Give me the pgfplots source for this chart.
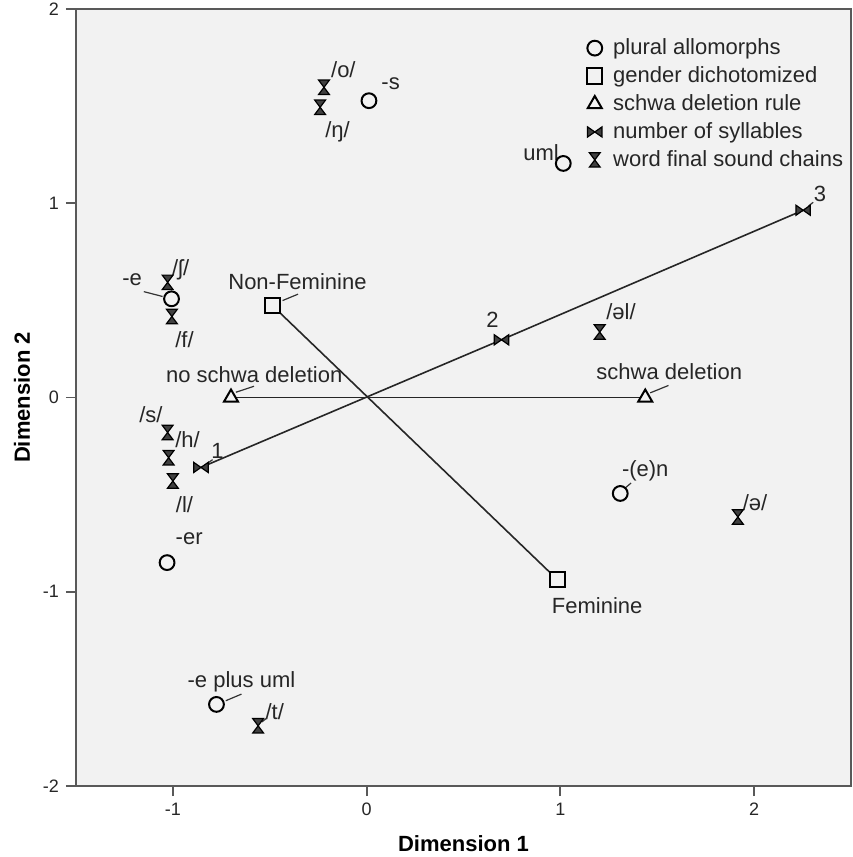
\documentclass[border=0pt]{standalone}
\usepackage{fontspec}
\setmainfont{Liberation Sans}
\usepackage{pgfplots}
\pgfplotsset{compat=1.18}
\definecolor{bg}{HTML}{F2F2F2}
\definecolor{txt}{HTML}{262626}

\pgfdeclareplotmark{bowtie}{%
  \pgfpathmoveto{\pgfpoint{-\pgfplotmarksize}{0.7\pgfplotmarksize}}%
  \pgfpathlineto{\pgfpoint{\pgfplotmarksize}{-0.7\pgfplotmarksize}}%
  \pgfpathlineto{\pgfpoint{\pgfplotmarksize}{0.7\pgfplotmarksize}}%
  \pgfpathlineto{\pgfpoint{-\pgfplotmarksize}{-0.7\pgfplotmarksize}}%
  \pgfpathclose
  \pgfusepathqfillstroke}
\pgfdeclareplotmark{hourglass}{%
  \pgfpathmoveto{\pgfpoint{-0.75\pgfplotmarksize}{\pgfplotmarksize}}%
  \pgfpathlineto{\pgfpoint{0.75\pgfplotmarksize}{\pgfplotmarksize}}%
  \pgfpathlineto{\pgfpoint{-0.75\pgfplotmarksize}{-\pgfplotmarksize}}%
  \pgfpathlineto{\pgfpoint{0.75\pgfplotmarksize}{-\pgfplotmarksize}}%
  \pgfpathclose
  \pgfusepathqfillstroke}

\tikzset{lab/.style={font=\fontsize{11}{13}\selectfont, text=txt, inner sep=0pt},
         lead/.style={black!80, line width=0.6pt}}

\begin{document}
\begin{tikzpicture}
\begin{axis}[
  scale only axis, width=387.5pt, height=388.5pt,
  xmin=-1.5, xmax=2.5, ymin=-2, ymax=2,
  xtick={-1,0,1,2}, xticklabels={-1,0,1,2},
  ytick={-2,-1,0,1,2}, yticklabels={-2,-1,0,1,2},
  tick pos=left, tick align=outside, major tick length=5pt,
  axis line style={black!65, line width=1pt},
  tick style={black!65, line width=0.9pt},
  axis background/.style={fill=bg},
  ticklabel style={font=\fontsize{9}{10}\selectfont, text=txt},
  xlabel={Dimension 1}, ylabel={Dimension 2},
  every axis x label/.style={at={(axis description cs:0.5,-0.0746)}, anchor=center, font=\bfseries\fontsize{11}{13}\selectfont},
  every axis y label/.style={at={(axis description cs:-0.0697,0.5)}, anchor=center, rotate=90, font=\bfseries\fontsize{11}{13}\selectfont},
  legend style={at={(axis cs:1.127,1.87)}, anchor=north west, draw=none, fill=none,
    font=\fontsize{11}{13}\selectfont, text=txt, row sep=0.5pt, inner sep=0pt},
  legend cell align=left,
  legend image code/.code={\draw[#1] plot coordinates {(4.5pt,0pt)}; \path (0pt,0pt) (11.5pt,0pt);},
  clip=false,
]
% connecting lines
\addplot[forget plot, black!85, line width=0.8pt] coordinates {(-0.486,0.473) (0.985,-0.938)};
\addplot[forget plot, black!85, line width=0.8pt] coordinates {(-0.700,0) (1.438,0)};
\addplot[forget plot, black!85, line width=0.8pt] coordinates {(-0.855,-0.360) (0.696,0.297) (2.253,0.964)};

% plural allomorphs
\addplot[only marks, mark=*, mark size=3.7pt, mark options={fill=bg, draw=black, line width=1pt}] coordinates {
  (0.012,1.528) (1.015,1.205) (-1.007,0.508) (1.309,-0.494) (-1.030,-0.850) (-0.775,-1.580)};
\addlegendentry{plural allomorphs}
% gender
\addplot[only marks, mark=square*, mark size=3.8pt, mark options={fill=bg, draw=black, line width=1pt}] coordinates {
  (-0.486,0.473) (0.985,-0.938)};
\addlegendentry{gender dichotomized}
% schwa
\addplot[only marks, mark=triangle*, mark size=4pt, mark options={fill=bg, draw=black, line width=1pt}] coordinates {
  (-0.700,0) (1.438,0)};
\addlegendentry{schwa deletion rule}
% syllables
\addplot[only marks, mark=bowtie, mark size=3.6pt, mark options={fill=black!75, draw=black, line width=0.6pt}] coordinates {
  (-0.855,-0.360) (0.696,0.297) (2.253,0.964)};
\addlegendentry{number of syllables}
% word final sound chains
\addplot[only marks, mark=hourglass, mark size=3.6pt, mark options={fill=black!75, draw=black, line width=0.6pt}] coordinates {
  (-0.220,1.597) (-0.240,1.494) (-1.027,0.593) (-1.005,0.417) (1.203,0.337)
  (-1.027,-0.180) (-1.022,-0.310) (-1.000,-0.430) (1.916,-0.615) (-0.560,-1.690)};
\addlegendentry{word final sound chains}

% labels
\node[lab] at (axis cs:0.124,1.615) {-s};
\node[lab] at (axis cs:-0.120,1.690) {/o/};
\node[lab] at (axis cs:-0.150,1.370) {/ŋ/};
\node[lab] at (axis cs:0.900,1.260) {uml};
\node[lab] at (axis cs:-1.210,0.605) {-e};
\draw[lead] (axis cs:-1.150,0.545) -- (axis cs:-1.053,0.520);
\node[lab] at (axis cs:-0.960,0.656) {/ʃ/};
\node[lab] at (axis cs:-0.940,0.297) {/f/};
\node[lab] at (axis cs:-0.357,0.596) {Non-Feminine};
\draw[lead] (axis cs:-0.434,0.499) -- (axis cs:-0.354,0.532);
\node[lab] at (axis cs:-0.580,0.118) {no schwa deletion};
\draw[lead] (axis cs:-0.675,0.027) -- (axis cs:-0.581,0.058);
\node[lab] at (axis cs:-1.113,-0.087) {/s/};
\node[lab] at (axis cs:-0.924,-0.215) {/h/};
\node[lab] at (axis cs:-0.770,-0.275) {1};
\draw[lead] (axis cs:-0.830,-0.345) -- (axis cs:-0.795,-0.320);
\node[lab] at (axis cs:-0.940,-0.554) {/l/};
\node[lab] at (axis cs:-0.916,-0.728) {-er};
\node[lab] at (axis cs:-0.646,-1.463) {-e plus uml};
\draw[lead] (axis cs:-0.727,-1.561) -- (axis cs:-0.646,-1.527);
\node[lab] at (axis cs:-0.474,-1.617) {/t/};
\draw[lead] (axis cs:-0.540,-1.670) -- (axis cs:-0.515,-1.650);
\node[lab] at (axis cs:1.313,0.443) {/əl/};
\node[lab] at (axis cs:1.562,0.135) {schwa deletion};
\draw[lead] (axis cs:1.464,0.024) -- (axis cs:1.558,0.062);
\node[lab] at (axis cs:1.438,-0.378) {-(e)n};
\draw[lead] (axis cs:1.330,-0.470) -- (axis cs:1.365,-0.440);
\node[lab] at (axis cs:2.005,-0.540) {/ə/};
\node[lab] at (axis cs:0.650,0.400) {2};
\node[lab] at (axis cs:2.340,1.050) {3};
\draw[lead] (axis cs:2.280,0.985) -- (axis cs:2.305,1.005);
\node[lab] at (axis cs:1.190,-1.070) {Feminine};
\end{axis}
\pgfresetboundingbox
\path[use as bounding box] (-38pt,-35.5pt) rectangle (388pt,393pt);
\end{tikzpicture}
\end{document}
